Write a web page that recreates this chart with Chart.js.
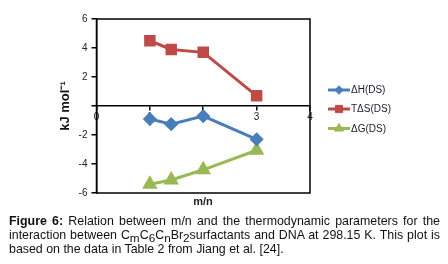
<!DOCTYPE html>
<html>
<head>
<meta charset="utf-8">
<script src="https://cdn.jsdelivr.net/npm/chart.js@4.4.0/dist/chart.umd.min.js"></script>
<style>
  body { margin: 0; background: #fff; width: 448px; height: 264px; overflow: hidden; position: relative; }
  #wrap { position: absolute; left: 0; top: 0; width: 448px; height: 210px; }
  #xtitle {
    position: absolute; left: 153px; top: 195px; width: 100px; text-align: center;
    font-family: "Liberation Sans", Arial, sans-serif; font-size: 11px; font-weight: bold; color: #222;
  }
  #caption {
    position: absolute; left: 9px; top: 214px; width: 431px;
    font-family: "Liberation Sans", Arial, sans-serif; font-size: 12.4px; line-height: 14px;
    color: #111; text-align: justify;
  }
  #caption sub { font-size: 0.95em; vertical-align: -3px; line-height: 0; }
</style>
</head>
<body>
<div id="wrap"><canvas id="chart" width="448" height="210"></canvas></div>
<div id="xtitle">m/n</div>
<div id="caption"><b>Figure 6:</b> Relation between m/n and the thermodynamic parameters for the interaction between C<sub>m</sub>C<sub>6</sub>C<sub>n</sub>Br<sub>2</sub>surfactants and DNA at 298.15 K. This plot is based on the data in Table 2 from Jiang et al. [24].</div>
<script>
// m/n ratios
const ratios = [1, 1.4, 2, 3];
const dH = [-0.9, -1.25, -0.7, -2.3];
const TdS = [4.5, 3.9, 3.7, 0.7];
const dG = [-5.4, -5.1, -4.4, -3.05];

const seriesNames = ["ΔH(DS)", "TΔS(DS)", "ΔG(DS)"];
const xTicks = [0, 1, 2, 3, 4];
const yTicks = [6, 4, 2, 0, -2, -4, -6];

function points(vals) {
  return ratios.map((r, i) => ({ x: r, y: vals[i] }));
}

const boxPlugin = {
  id: "box",
  beforeDatasetsDraw(chart) {
    const a = chart.chartArea;
    const ctx = chart.ctx;
    ctx.save();
    ctx.strokeStyle = "#000";
    ctx.lineWidth = 1.5;
    ctx.strokeRect(a.left, a.top, a.right - a.left, a.bottom - a.top);
    ctx.restore();
  }
};

// legend: line with marker, like the spreadsheet one
const sideLegend = {
  id: "sideLegend",
  afterDraw(chart) {
    const ctx = chart.ctx;
    const ys = [90, 109, 128.5];
    ctx.save();
    chart.data.datasets.forEach((ds, i) => {
      const y = ys[i];
      ctx.strokeStyle = ds.borderColor;
      ctx.lineWidth = 3;
      ctx.beginPath();
      ctx.moveTo(328, y);
      ctx.lineTo(350, y);
      ctx.stroke();
      ctx.fillStyle = ds.backgroundColor;
      ctx.strokeStyle = ds.borderColor;
      ctx.lineWidth = 1;
      Chart.helpers.drawPoint(ctx, { pointStyle: ds.pointStyle, radius: ds.pointRadius * 0.85, borderWidth: 1 }, 339, y);
      ctx.fillStyle = "#1a1a2a";
      ctx.font = "10px 'Liberation Sans', Arial, sans-serif";
      ctx.textBaseline = "middle";
      ctx.fillText(ds.label, 351, y + 0.5);
    });
    ctx.restore();
  }
};

new Chart(document.getElementById("chart"), {
  type: "scatter",
  data: {
    datasets: [
      { label: seriesNames[0], data: points(dH), borderColor: "#4a7ebb", backgroundColor: "#4a7ebb",
        pointStyle: "rectRot", pointRadius: 5, showLine: true, borderWidth: 3 },
      { label: seriesNames[1], data: points(TdS), borderColor: "#be4b48", backgroundColor: "#be4b48",
        pointStyle: "rect", pointRadius: 6, showLine: true, borderWidth: 3 },
      { label: seriesNames[2], data: points(dG), borderColor: "#98b954", backgroundColor: "#98b954",
        pointStyle: "triangle", pointRadius: 6, showLine: true, borderWidth: 3 }
    ]
  },
  options: {
    responsive: false,
    animation: false,
    layout: { padding: { left: 51, right: 138, top: 19, bottom: 17 } },
    plugins: {
      legend: { display: false },
      tooltip: { enabled: false }
    },
    scales: {
      x: {
        type: "linear", position: { y: 0 }, min: 0, max: 4,
        afterBuildTicks(axis) { axis.ticks = xTicks.map(v => ({ value: v })); },
        grid: { drawOnChartArea: false, tickLength: 4, color: "#000", lineWidth: 1.5 },
        border: { color: "#000", width: 1.5 },
        ticks: { padding: 1, color: "#222", font: { family: "'Liberation Sans', Arial, sans-serif", size: 10 } }
      },
      y: {
        type: "linear", position: "left", min: -6, max: 6,
        afterBuildTicks(axis) { axis.ticks = yTicks.map(v => ({ value: v })); },
        grid: { drawOnChartArea: false, tickLength: 5, color: "#000", lineWidth: 1.5 },
        border: { color: "#000", width: 1.5 },
        ticks: {
          padding: 4, color: "#222", font: { family: "'Liberation Sans', Arial, sans-serif", size: 10 },
          callback: v => (v === 0 ? "" : v)
        },
        title: {
          display: true, text: "kJ mol⁻¹", color: "#111",
          font: { family: "'Liberation Sans', Arial, sans-serif", size: 13, weight: "bold" },
          padding: { top: 7, bottom: 1 }
        }
      }
    }
  },
  plugins: [boxPlugin, sideLegend]
});
</script>
</body>
</html>
